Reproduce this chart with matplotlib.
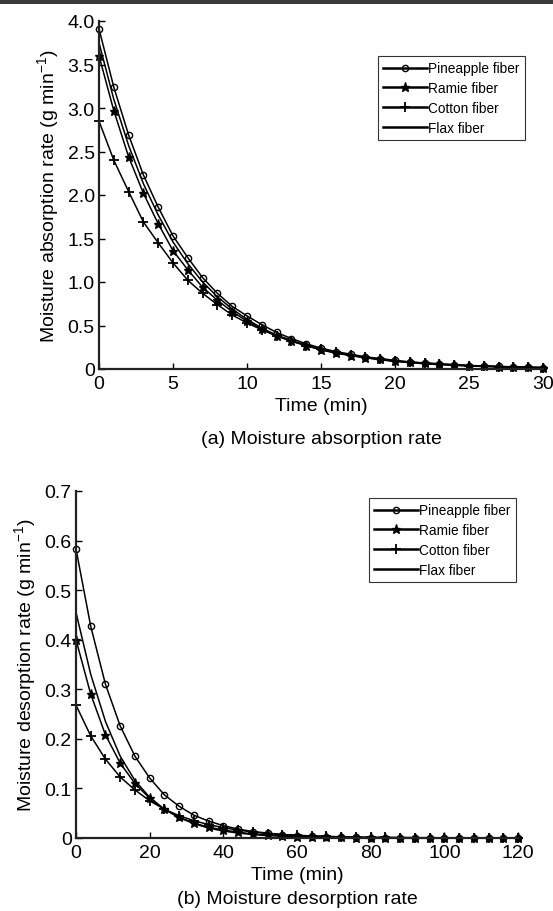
import numpy as np
import matplotlib
matplotlib.use("Agg")
import matplotlib.pyplot as plt
from matplotlib.patches import Rectangle

plt.rcParams['font.family'] = ['Liberation Sans', 'DejaVu Sans']
plt.rcParams['mathtext.fontset'] = 'custom'
plt.rcParams['mathtext.rm'] = 'Liberation Sans'

# (a) absorption, sampled every minute
t_abs = list(range(0, 31))
abs_pineapple = [3.91, 3.24, 2.69, 2.23, 1.86, 1.53, 1.28, 1.05, 0.87, 0.72, 0.61, 0.51, 0.42,
                 0.35, 0.29, 0.24, 0.20, 0.17, 0.14, 0.12, 0.10, 0.08, 0.07, 0.06, 0.05, 0.04,
                 0.035, 0.03, 0.025, 0.02, 0.017]
abs_ramie = [3.60, 2.97, 2.44, 2.02, 1.67, 1.36, 1.14, 0.94, 0.79, 0.66, 0.55, 0.46, 0.38,
             0.32, 0.27, 0.22, 0.185, 0.155, 0.13, 0.11, 0.09, 0.075, 0.065, 0.055, 0.045, 0.038,
             0.032, 0.027, 0.022, 0.018, 0.015]
abs_cotton = [2.85, 2.40, 2.04, 1.69, 1.45, 1.22, 1.02, 0.87, 0.74, 0.62, 0.53, 0.45, 0.38,
              0.32, 0.27, 0.23, 0.19, 0.16, 0.135, 0.115, 0.095, 0.08, 0.068, 0.057, 0.048, 0.04,
              0.034, 0.028, 0.024, 0.02, 0.017]
abs_flax = [3.75, 3.10, 2.57, 2.13, 1.77, 1.46, 1.21, 1.00, 0.83, 0.69, 0.57, 0.47, 0.39,
            0.33, 0.27, 0.22, 0.185, 0.155, 0.13, 0.105, 0.088, 0.073, 0.06, 0.05, 0.042, 0.035,
            0.029, 0.024, 0.02, 0.017, 0.014]

# (b) desorption, sampled every 4 minutes
t_des = list(range(0, 121, 4))
des_pineapple = [0.583, 0.427, 0.310, 0.226, 0.165, 0.121, 0.087, 0.064, 0.046, 0.034, 0.025,
                 0.018, 0.013, 0.010, 0.007, 0.005, 0.004, 0.003, 0.002, 0.0015, 0.001, 0.001,
                 0.0008, 0.0006, 0.0005, 0.0004, 0.0003, 0.0002, 0.0002, 0.0001, 0.0001]
des_ramie = [0.400, 0.290, 0.208, 0.151, 0.110, 0.080, 0.058, 0.042, 0.030, 0.022, 0.016,
             0.012, 0.008, 0.006, 0.0045, 0.003, 0.0024, 0.0017, 0.0012, 0.0009, 0.0007, 0.0005,
             0.0004, 0.0003, 0.0002, 0.0002, 0.0001, 0.0001, 0.0001, 0.0001, 0.0]
des_cotton = [0.268, 0.206, 0.159, 0.123, 0.097, 0.075, 0.058, 0.045, 0.035, 0.027, 0.021,
              0.016, 0.012, 0.009, 0.007, 0.0055, 0.0042, 0.0032, 0.0025, 0.0019, 0.0015, 0.0011,
              0.0009, 0.0007, 0.0005, 0.0004, 0.0003, 0.0002, 0.0002, 0.0001, 0.0001]
des_flax = [0.455, 0.330, 0.235, 0.165, 0.116, 0.082, 0.058, 0.041, 0.029, 0.020, 0.014,
            0.010, 0.007, 0.005, 0.0035, 0.0025, 0.0018, 0.0013, 0.0009, 0.0006, 0.0004, 0.0003,
            0.0002, 0.0002, 0.0001, 0.0001, 0.0001, 0.0, 0.0, 0.0, 0.0]

labels = ['Pineapple fiber', 'Ramie fiber', 'Cotton fiber', 'Flax fiber']
styles = [dict(marker='o', mfc='none', ms=4.5, mew=1.0),
          dict(marker='*', ms=6.5, mew=1.0),
          dict(marker='+', ms=7, mew=1.3),
          dict(marker='None')]

W, H = 553, 912
FS = 14
fig = plt.figure(figsize=(W / 100, H / 100), dpi=100)
fig.add_artist(Rectangle((0, 1 - 5 / H), 1, 5 / H, transform=fig.transFigure,
                         color='#3a3a3a', lw=0))


def box(l, t, r, b):
    return [l / W, 1 - b / H, (r - l) / W, (b - t) / H]


def panel(rect, t, series, xlim, xticks, ylim, yticks, yticklabels, ylabel, caption,
          leg_xy, cap_y):
    ax = fig.add_axes(box(*rect))
    for ys, st, lab in zip(series, styles, labels):
        ax.plot(t, ys, color='black', lw=1.1, label=lab, clip_on=False, **st)
    ax.set_xlim(*xlim)
    ax.set_ylim(*ylim)
    ax.set_xticks(xticks)
    ax.set_yticks(yticks)
    ax.set_yticklabels(yticklabels)
    for s in ['top', 'right']:
        ax.spines[s].set_visible(False)
    for s in ['left', 'bottom']:
        ax.spines[s].set_linewidth(1.6)
        ax.spines[s].set_color('#222222')
    ax.tick_params(direction='in', length=4, width=1.0, labelsize=FS)
    ax.tick_params(axis='y', pad=3)
    ax.tick_params(axis='x', pad=4)
    ax.set_xlabel('Time (min)', fontsize=FS, labelpad=4)
    ax.set_ylabel(ylabel, fontsize=FS, labelpad=4)
    leg = ax.legend(loc='upper left', bbox_to_anchor=(leg_xy[0] / W, 1 - leg_xy[1] / H),
                    bbox_transform=fig.transFigure, fontsize=9.8, frameon=True,
                    fancybox=False, edgecolor='black', handlelength=3.2,
                    handletextpad=0.05, labelspacing=0.42, borderpad=0.4,
                    borderaxespad=0)
    leg.get_frame().set_linewidth(0.8)
    for h in leg.legend_handles:
        h.set_linewidth(1.8)
    fig.text((rect[0] + rect[2]) / 2 / W, 1 - cap_y / H, caption, fontsize=FS,
             ha='center', va='center')
    return ax


panel((99, 22, 543, 370), t_abs, [abs_pineapple, abs_ramie, abs_cotton, abs_flax],
      (0, 30), [0, 5, 10, 15, 20, 25, 30], (0, 4.0),
      [0, 0.5, 1.0, 1.5, 2.0, 2.5, 3.0, 3.5, 4.0],
      ['0', '0.5', '1.0', '1.5', '2.0', '2.5', '3.0', '3.5', '4.0'],
      'Moisture absorption rate (g min$^{-1}$)', '(a) Moisture absorption rate',
      (378, 57), 440)

panel((76, 492, 518, 839), t_des, [des_pineapple, des_ramie, des_cotton, des_flax],
      (0, 120), [0, 20, 40, 60, 80, 100, 120], (0, 0.7),
      [0, 0.1, 0.2, 0.3, 0.4, 0.5, 0.6, 0.7],
      ['0', '0.1', '0.2', '0.3', '0.4', '0.5', '0.6', '0.7'],
      'Moisture desorption rate (g min$^{-1}$)', '(b) Moisture desorption rate',
      (369, 499), 900)

fig.savefig('out.png', dpi=100)
